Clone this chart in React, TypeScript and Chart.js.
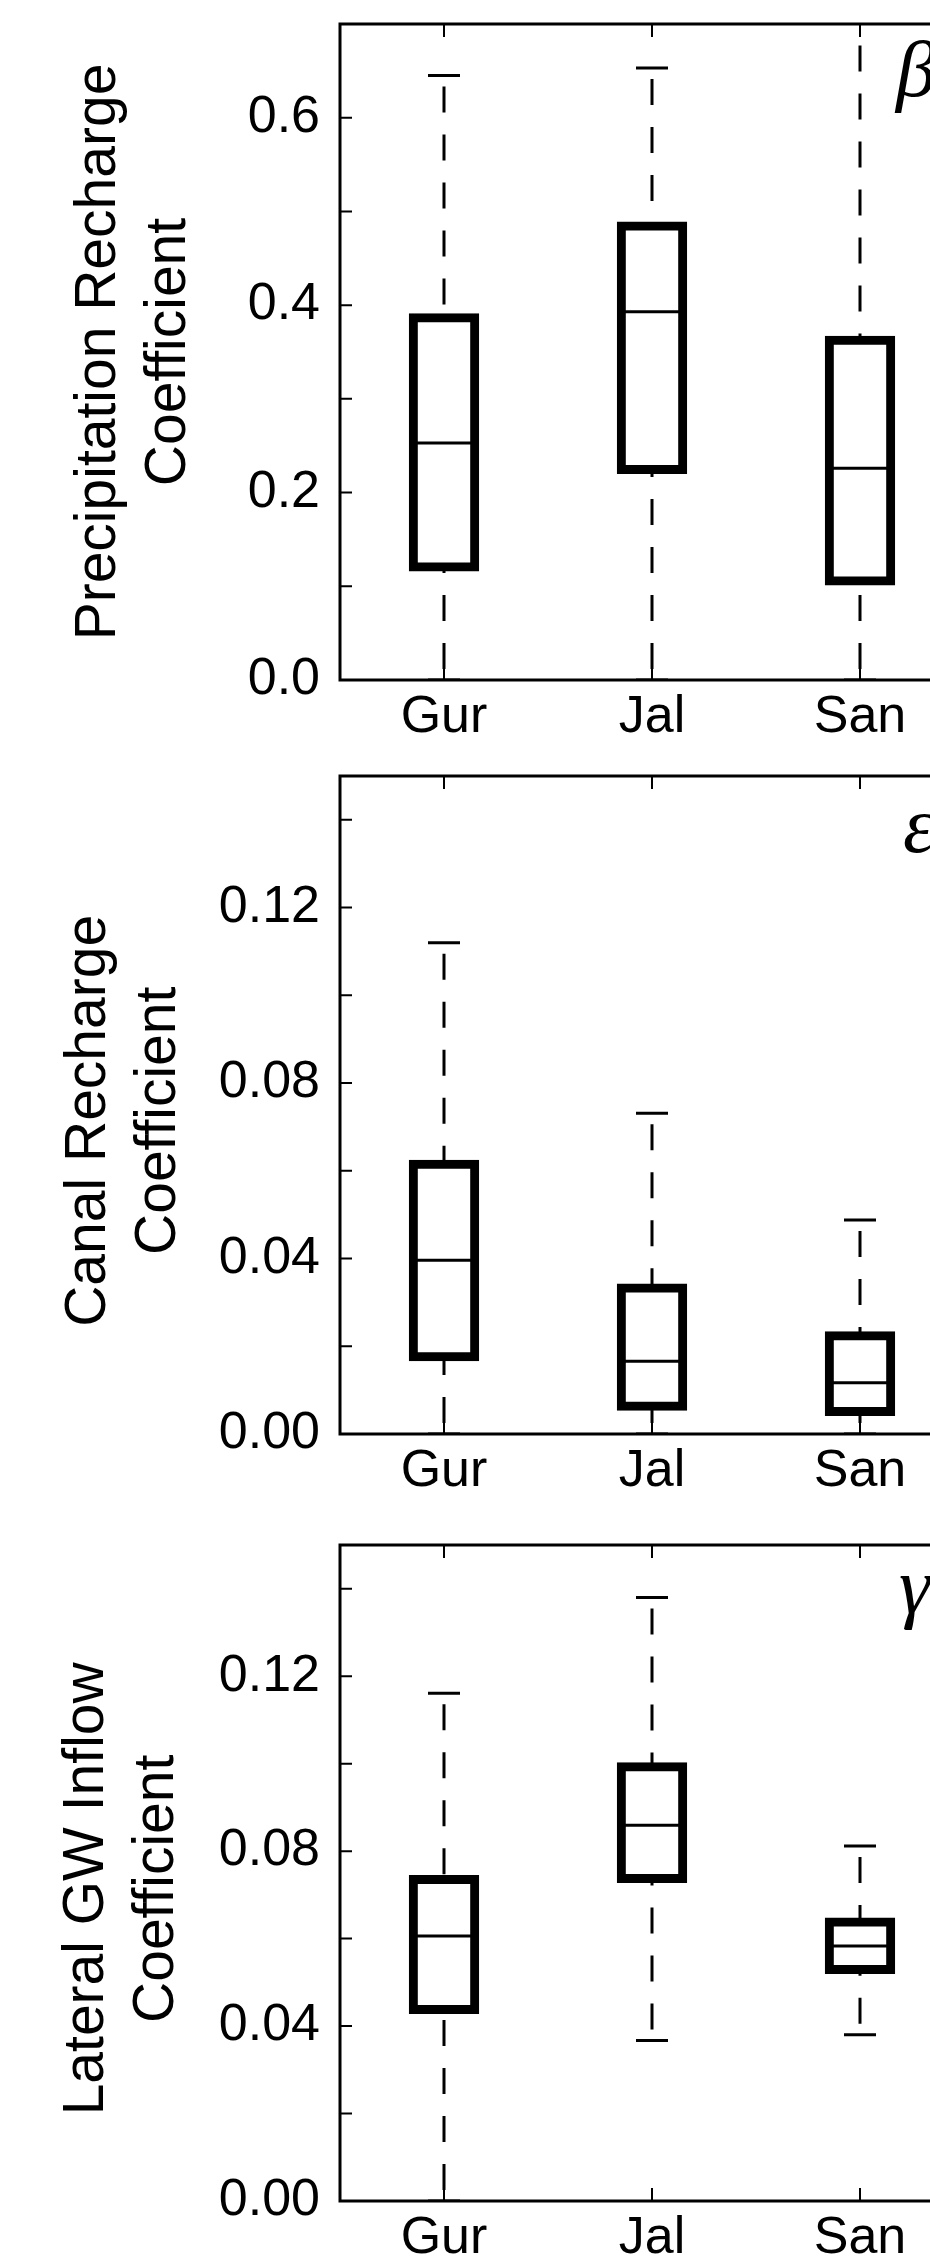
import React, { useEffect, useRef } from 'react';
import { Chart, registerables } from 'chart.js';

Chart.register(...registerables);

// ---------------- data ----------------
const categories = ['Gur', 'Jal', 'San'];

// Panel 1 — precipitation recharge coefficient (β)
const precipMin = [0.0, 0.0, 0.0];
const precipQ1 = [0.12, 0.224, 0.105];
const precipMedian = [0.253, 0.393, 0.226];
const precipQ3 = [0.387, 0.485, 0.363];
const precipMax = [0.645, 0.653, 0.74];
const precipTicks = [0, 0.1, 0.2, 0.3, 0.4, 0.5, 0.6, 0.7];
const precipTickLabels = ['0.0', '', '0.2', '', '0.4', '', '0.6', ''];

// Panel 2 — canal recharge coefficient (ε)
const canalMin = [0.0, 0.0, 0.0];
const canalQ1 = [0.0175, 0.0062, 0.005];
const canalMedian = [0.0396, 0.0166, 0.0117];
const canalQ3 = [0.0616, 0.0334, 0.0225];
const canalMax = [0.112, 0.0731, 0.0488];

// Panel 3 — lateral GW inflow coefficient (γ)
const lateralMin = [0.0, 0.0367, 0.038];
const lateralQ1 = [0.0437, 0.0736, 0.0528];
const lateralMedian = [0.0606, 0.0859, 0.0583];
const lateralQ3 = [0.0736, 0.0994, 0.0639];
const lateralMax = [0.1161, 0.138, 0.0812];

const coefTicks = [0, 0.02, 0.04, 0.06, 0.08, 0.1, 0.12, 0.14];
const coefTickLabels = ['0.00', '', '0.04', '', '0.08', '', '0.12', ''];

// ---------------- styling ----------------
const SANS = '"Liberation Sans", Arial, Helvetica, sans-serif';
const SERIF = '"Liberation Serif", "Times New Roman", serif';
const CANVAS_W = 1000;

const panels = [
  {
    top: 0, height: 750, yMax: 0.7,
    ticks: precipTicks, tickLabels: precipTickLabels,
    title: ['Precipitation Recharge', 'Coefficient'], titlePad: 64,
    letter: 'β', letterDx: 68, letterDy: 72,
    min: precipMin, q1: precipQ1, med: precipMedian, q3: precipQ3, max: precipMax,
  },
  {
    top: 752, height: 752, yMax: 0.15,
    ticks: coefTicks, tickLabels: coefTickLabels,
    title: ['Canal Recharge  ', 'Coefficient  '], titlePad: 54,
    letter: 'ε', letterDx: 61, letterDy: 76,
    min: canalMin, q1: canalQ1, med: canalMedian, q3: canalQ3, max: canalMax,
  },
  {
    top: 1521, height: 750, yMax: 0.15,
    ticks: coefTicks, tickLabels: coefTickLabels,
    title: ['Lateral GW Inflow  ', 'Coefficient  '], titlePad: 52,
    letter: 'γ', letterDx: 65, letterDy: 68,
    min: lateralMin, q1: lateralQ1, med: lateralMedian, q3: lateralQ3, max: lateralMax,
  },
];

const boxDecor = {
  id: 'boxDecor',
  beforeDatasetsDraw(chart: any) {
    const o = chart.options.plugins.boxDecor;
    const { ctx, chartArea: ca, scales } = chart;
    const x = scales.x, y = scales.y;
    ctx.save();
    ctx.beginPath();
    ctx.rect(ca.left, ca.top, ca.right - ca.left, ca.bottom - ca.top);
    ctx.clip();
    ctx.strokeStyle = '#000';
    ctx.lineWidth = 3;
    categories.forEach((_, i) => {
      const cx = x.getPixelForValue(i);
      ctx.setLineDash([26, 22]);
      ctx.lineDashOffset = 37;
      ctx.beginPath();
      ctx.moveTo(cx, y.getPixelForValue(o.max[i]));
      ctx.lineTo(cx, y.getPixelForValue(o.q3[i]));
      ctx.stroke();
      ctx.beginPath();
      ctx.moveTo(cx, y.getPixelForValue(o.min[i]));
      ctx.lineTo(cx, y.getPixelForValue(o.q1[i]));
      ctx.stroke();
      ctx.setLineDash([]);
      ctx.beginPath();
      ctx.moveTo(cx - 16, y.getPixelForValue(o.max[i]));
      ctx.lineTo(cx + 16, y.getPixelForValue(o.max[i]));
      ctx.moveTo(cx - 16, y.getPixelForValue(o.min[i]));
      ctx.lineTo(cx + 16, y.getPixelForValue(o.min[i]));
      ctx.stroke();
    });
    ctx.restore();
  },
  afterDraw(chart: any) {
    const o = chart.options.plugins.boxDecor;
    const { ctx, chartArea: ca, scales } = chart;
    const x = scales.x, y = scales.y;
    const meta = chart.getDatasetMeta(0);
    ctx.save();
    ctx.strokeStyle = '#000';
    ctx.setLineDash([]);
    // medians
    ctx.lineWidth = 3;
    categories.forEach((_, i) => {
      const el = meta.data[i];
      const half = el.width / 2;
      const py = y.getPixelForValue(o.med[i]);
      ctx.beginPath();
      ctx.moveTo(el.x - half, py);
      ctx.lineTo(el.x + half, py);
      ctx.stroke();
    });
    // frame
    ctx.lineWidth = 3;
    ctx.strokeRect(ca.left, ca.top, ca.right - ca.left, ca.bottom - ca.top);
    // inward ticks
    ctx.lineWidth = 2;
    ctx.beginPath();
    y.ticks.forEach((t: any) => {
      const py = y.getPixelForValue(t.value);
      ctx.moveTo(ca.left, py);
      ctx.lineTo(ca.left + 12, py);
      ctx.moveTo(ca.right, py);
      ctx.lineTo(ca.right - 12, py);
    });
    categories.forEach((_, i) => {
      const px = x.getPixelForValue(i);
      ctx.moveTo(px, ca.bottom);
      ctx.lineTo(px, ca.bottom - 13);
      ctx.moveTo(px, ca.top);
      ctx.lineTo(px, ca.top + 13);
    });
    ctx.stroke();
    // panel letter
    ctx.fillStyle = '#000';
    ctx.font = 'italic 80px ' + SERIF;
    ctx.textAlign = 'left';
    ctx.textBaseline = 'alphabetic';
    ctx.fillText(o.letter, ca.right - o.letterDx, ca.top + o.letterDy);
    ctx.restore();
  },
};

function Panel({ p }: { p: any }) {
  const ref = useRef<HTMLCanvasElement>(null);
  useEffect(() => {
    const chart = new Chart(ref.current as HTMLCanvasElement, {
      type: 'bar',
      data: {
        labels: categories,
        datasets: [
          {
            data: categories.map((_, i) => [p.q1[i], p.q3[i]]),
            backgroundColor: 'rgba(0,0,0,0)',
            borderColor: '#000',
            borderWidth: 1,
            inflateAmount: 4,
            borderSkipped: false,
            barPercentage: 0.3,
            categoryPercentage: 1,
          } as any,
        ],
      },
      options: {
        animation: false,
        responsive: false,
        devicePixelRatio: 1,
        events: [],
        layout: { padding: { top: 24, right: 36, left: 0, bottom: 0 } },
        plugins: {
          legend: { display: false },
          tooltip: { enabled: false },
          boxDecor: {
            letter: p.letter, letterDx: p.letterDx, letterDy: p.letterDy,
            min: p.min, q1: p.q1, med: p.med, q3: p.q3, max: p.max,
          },
        } as any,
        scales: {
          x: {
            type: 'category',
            offset: true,
            grid: { display: false, drawTicks: false },
            border: { display: false },
            ticks: {
              color: '#000',
              font: { family: SANS, size: 52 },
              padding: 6,
              maxRotation: 0,
              autoSkip: false,
            },
            afterFit: (s: any) => {
              s.height = 70;
              s.paddingLeft = 0;
              s.paddingRight = 0;
            },
          },
          y: {
            type: 'linear',
            min: 0,
            max: p.yMax,
            grid: { display: false, drawTicks: false },
            border: { display: false },
            afterBuildTicks: (s: any) => {
              s.ticks = p.ticks.map((v: number) => ({ value: v }));
            },
            ticks: {
              color: '#000',
              font: { family: SANS, size: 52 },
              padding: 20,
              autoSkip: false,
              callback: (_v: any, i: number) => p.tickLabels[i],
            },
            title: {
              display: true,
              text: p.title,
              color: '#000',
              font: { family: SANS, size: 57, lineHeight: 1.23 },
              padding: { top: p.titlePad, bottom: 0 },
            },
            afterFit: (s: any) => {
              s.width = 340;
              s.paddingTop = 0;
              s.paddingBottom = 0;
            },
          },
        },
      } as any,
      plugins: [boxDecor as any],
    });
    return () => chart.destroy();
  }, []);
  return (
    <canvas
      ref={ref}
      width={CANVAS_W}
      height={p.height}
      style={{ position: 'absolute', left: 0, top: p.top, width: CANVAS_W, height: p.height }}
    />
  );
}

export default function App() {
  return (
    <div
      style={{
        position: 'absolute',
        left: 0,
        top: 0,
        width: 930,
        height: 2264,
        overflow: 'hidden',
        background: '#fff',
      }}
    >
      {panels.map((p, i) => (
        <Panel key={i} p={p} />
      ))}
    </div>
  );
}
